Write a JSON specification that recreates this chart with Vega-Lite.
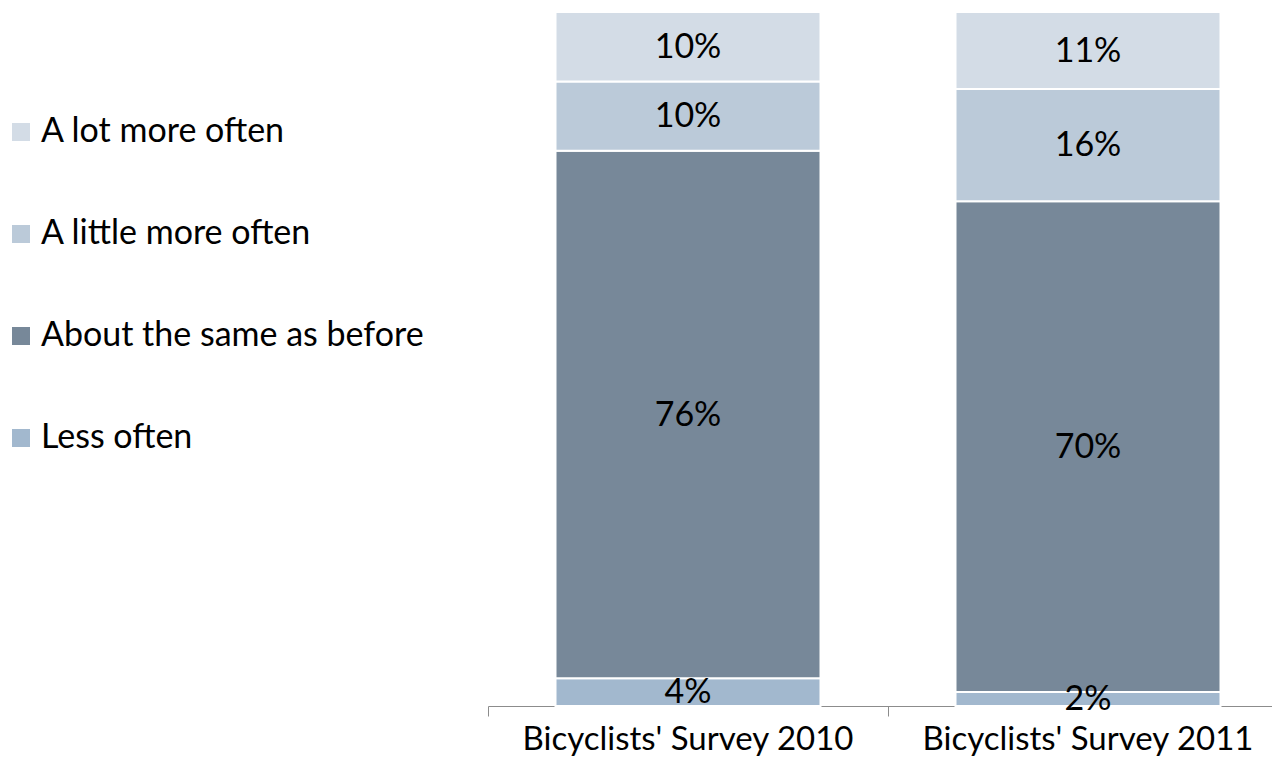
{
  "$schema": "https://vega.github.io/schema/vega-lite/v6.json",
  "autosize": {"type": "none"},
  "width": 800,
  "height": 694,
  "padding": {"left": 488, "top": 12, "right": 0, "bottom": 64},
  "background": "white",
  "config": {"view": {"stroke": null}, "font": "Lato"},
  "data": {"values": [
    {"survey": "Bicyclists' Survey 2010", "answer": "Less often", "rank": 1, "share": 0.04},
    {"survey": "Bicyclists' Survey 2010", "answer": "About the same as before", "rank": 2, "share": 0.76},
    {"survey": "Bicyclists' Survey 2010", "answer": "A little more often", "rank": 3, "share": 0.10},
    {"survey": "Bicyclists' Survey 2010", "answer": "A lot more often", "rank": 4, "share": 0.10},
    {"survey": "Bicyclists' Survey 2011", "answer": "Less often", "rank": 1, "share": 0.02},
    {"survey": "Bicyclists' Survey 2011", "answer": "About the same as before", "rank": 2, "share": 0.70},
    {"survey": "Bicyclists' Survey 2011", "answer": "A little more often", "rank": 3, "share": 0.16},
    {"survey": "Bicyclists' Survey 2011", "answer": "A lot more often", "rank": 4, "share": 0.11}
  ]},
  "transform": [
    {"stack": "share", "groupby": ["survey"], "sort": [{"field": "rank", "order": "ascending"}], "offset": "normalize", "as": ["y0", "y1"]}
  ],
  "encoding": {
    "x": {"field": "survey", "type": "nominal", "title": null,
      "scale": {"paddingInner": 0.3375, "paddingOuter": 0.16875},
      "axis": {"labelAngle": 0, "labelFontSize": 33, "labelColor": "#000", "labelFont": "Lato", "labelLimit": 600, "domainColor": "#8c8c8c", "tickColor": "#8c8c8c", "tickSize": 10, "labelPadding": 7, "bandPosition": -0.2547, "domainWidth": 1, "tickWidth": 1}}
  },
  "layer": [
    {
      "mark": {"type": "bar", "stroke": "white", "strokeWidth": 2},
      "encoding": {
        "y": {"field": "y0", "type": "quantitative", "scale": {"domain": [0, 1]}, "axis": null},
        "y2": {"field": "y1"},
        "color": {"field": "answer", "type": "nominal", "title": null,
          "scale": {"domain": ["A lot more often", "A little more often", "About the same as before", "Less often"],
                    "range": ["#D3DCE6", "#BBCAD9", "#778899", "#A2B8CE"]},
          "legend": {"orient": "none", "legendX": -484, "legendY": 103, "symbolType": "square", "symbolSize": 324, "symbolStrokeWidth": 0, "labelFontSize": 34, "labelColor": "#000", "labelFont": "Lato", "rowPadding": 68, "labelOffset": 3, "labelLimit": 500}
        }
      }
    },
    {
      "transform": [{"calculate": "(datum.y0 + datum.y1) / 2", "as": "ymid"}],
      "mark": {"type": "text", "fontSize": 34, "color": "#000", "font": "Lato", "baseline": "middle", "dy": 1},
      "encoding": {
        "y": {"field": "ymid", "type": "quantitative", "scale": {"domain": [0, 1]}, "axis": null},
        "text": {"field": "share", "type": "quantitative", "format": ".0%"}
      }
    }
  ]
}
